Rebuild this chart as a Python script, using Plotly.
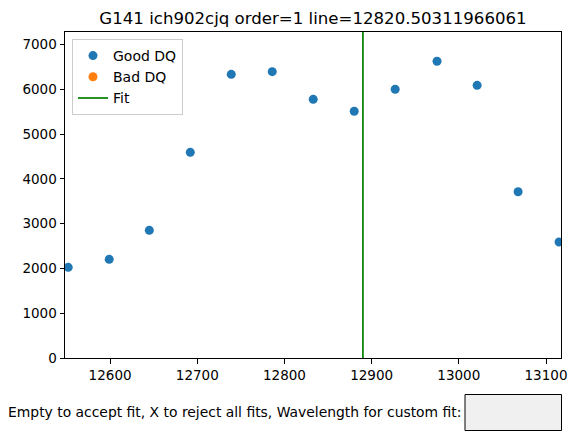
import plotly.graph_objects as go

# Data
wavelength = [12552, 12599, 12645, 12692, 12739, 12786, 12833, 12880, 12927, 12975, 13021, 13068, 13115]
flux_good = [2024, 2203, 2850, 4591, 6332, 6391, 5774, 5507, 5998, 6623, 6087, 3712, 2589]
bad_wave = []
bad_flux = []
fit_line = 12890
x_ticks = [12600, 12700, 12800, 12900, 13000, 13100]
y_ticks = [0, 1000, 2000, 3000, 4000, 5000, 6000, 7000]
title = "G141 ich902cjq order=1 line=12820.50311966061"
prompt = "Empty to accept fit, X to reject all fits, Wavelength for custom fit:"

W, H = 578, 445
L, R, T, B = 65, 17, 32, 87
pw, ph = W - L - R, H - T - B
def px(x):
    return (x - L) / pw
def py(y):
    return (H - B - y) / ph

font = "DejaVu Sans"
fig = go.Figure()
fig.add_trace(go.Scatter(x=wavelength, y=flux_good, mode="markers", name="Good DQ",
                         marker=dict(color="#1f77b4", size=9)))
fig.add_trace(go.Scatter(x=bad_wave if bad_wave else [None], y=bad_flux if bad_flux else [None],
                         mode="markers", name="Bad DQ",
                         marker=dict(color="#ff7f0e", size=9)))
fig.add_trace(go.Scatter(x=[fit_line, fit_line], y=[0, 1], yaxis="y2", mode="lines", name="Fit",
                         line=dict(color="green", width=1.7)))

fig.update_layout(
    width=W, height=H,
    margin=dict(l=L, r=R, t=T, b=B),
    paper_bgcolor="white", plot_bgcolor="white",
    font=dict(family=font, size=13, color="black"),
    title=dict(text=title, x=(L + pw / 2) / W, xanchor="center", y=1 - 18 / H, yanchor="middle",
               font=dict(size=16.6, family=font, color="black")),
    xaxis=dict(range=[12548.3, 13117.2], tickvals=x_ticks, ticktext=[str(v) for v in x_ticks],
               ticks="outside", ticklen=4.5,
               tickcolor="black", showline=True, linecolor="black", linewidth=1, mirror=True,
               showgrid=False, zeroline=False, tickfont=dict(size=13.5)),
    yaxis=dict(range=[0, 7277], tickvals=y_ticks, ticktext=[str(v) for v in y_ticks],
               ticks="outside", ticklen=4.5,
               tickcolor="black", showline=True, linecolor="black", linewidth=1, mirror=True,
               showgrid=False, zeroline=False, tickfont=dict(size=13.5)),
    yaxis2=dict(range=[0, 1], overlaying="y", visible=False),
    legend=dict(x=px(72), y=py(39), xanchor="left", yanchor="top",
                bordercolor="#cccccc", borderwidth=1, bgcolor="rgba(255,255,255,0.8)",
                font=dict(size=14, family=font), tracegroupgap=0, itemwidth=30),
    showlegend=True,
)

fig.add_shape(type="rect", xref="paper", yref="paper",
              x0=px(465), x1=px(561.5), y0=py(430.5), y1=py(394.5),
              fillcolor="#f0f0f0", line=dict(color="black", width=1))
fig.add_annotation(text=prompt, xref="paper", yref="paper", x=px(463), y=py(412),
                   xanchor="right", yanchor="middle", showarrow=False,
                   font=dict(size=13.9, family=font, color="black"))

fig.write_html("out.html")
